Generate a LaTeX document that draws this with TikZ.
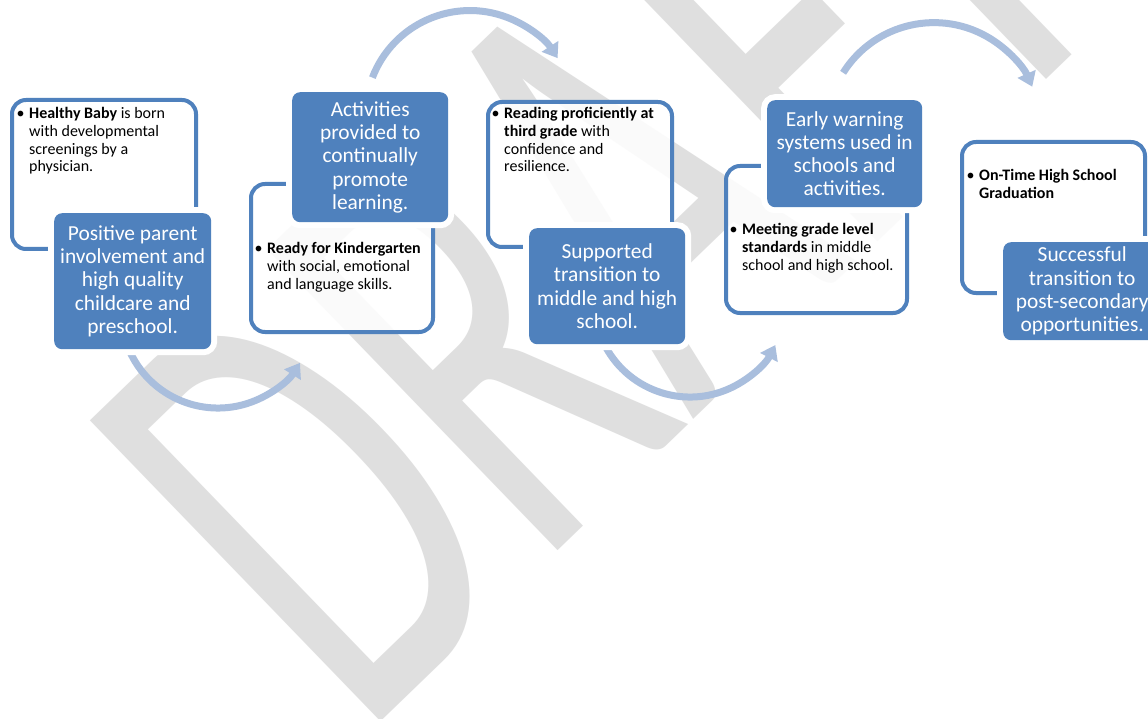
\documentclass[tikz,border=0pt]{standalone}
\usepackage{fontspec}
\setmainfont{Carlito}
\usetikzlibrary{arrows.meta}
\definecolor{boxblue}{HTML}{4F81BD}
\definecolor{arrowblue}{HTML}{A9BEDD}
\definecolor{wmgray}{HTML}{DFDFDF}
\tikzset{
  wmark/.style={text=wmgray, inner sep=0pt, font=\fontsize{652}{652}\selectfont},
  whitebox/.style={rectangle, draw=boxblue, line width=4pt, fill=white, fill opacity=0.85, draw opacity=1,
    rounded corners=14pt, inner sep=0pt, anchor=north west},
  bluebox/.style={rectangle, fill=boxblue, rounded corners=8pt, inner sep=0pt, anchor=north west,
    preaction={draw=white, line width=12pt, rounded corners=8pt}},
  bluetext/.style={text=white, align=center, inner sep=0pt, font=\fontsize{21.4}{23.3}\selectfont},
  bullettext/.style={text=black, align=left, inner sep=0pt, anchor=base west, font=\fontsize{16}{17.6}\selectfont},
  flow/.style={draw=arrowblue, line width=7pt, -{Triangle[width=19pt,length=14pt]}},
}
\newcommand{\bul}{\llap{\textbullet\hspace{4.5pt}}}
\begin{document}
\begin{tikzpicture}[x=1pt, y=-1pt]
\useasboundingbox (0,0) rectangle (1148,719);
\clip (0,0) rectangle (1148,719);
\fill[white] (0,0) rectangle (1148,719);
% watermark
\node[wmark, anchor=base west, rotate=44] (wm) at (361,741) {\scalebox{0.61}[1]{DRAFT}};
% arrows
\coordinate (a1s) at (126.8,344.2);
\coordinate (a2s) at (372.4,77.6);
\coordinate (a3s) at (603.0,341.6);
\coordinate (a4s) at (843.1,72.8);
\draw[flow] (a1s) arc[start angle=160, end angle=32.3, radius=97];
\draw[flow] (a2s) arc[start angle=-159, end angle=-33, radius=104.5];
\draw[flow] (a3s) arc[start angle=155, end angle=27.3, radius=96];
\draw[flow] (a4s) arc[start angle=-147.8, end angle=-23.8, radius=107.4];
% white boxes
\node[whitebox, minimum width=184pt, minimum height=149pt] (w1) at (10,98) {};
\node[whitebox, minimum width=182pt, minimum height=148pt] (w2) at (249,182) {};
\node[whitebox, minimum width=184pt, minimum height=145pt] (w3) at (486,100) {};
\node[whitebox, minimum width=181pt, minimum height=147pt] (w4) at (724,164) {};
\node[whitebox, minimum width=183pt, minimum height=151pt] (w5) at (960,140) {};
% bullet texts (anchored at the baseline of the last line)
\node[bullettext] (t1) at (29,171.8) {\bul\textbf{Healthy Baby} is born\\with developmental\\screenings by a\\physician.};
\node[bullettext] (t2) at (267,289.2) {\bul\textbf{Ready for Kindergarten}\\with social, emotional\\and language skills.};
\node[bullettext] (t3) at (504,171.8) {\bul\textbf{Reading proficiently at}\\\textbf{third grade} with\\confidence and\\resilience.};
\node[bullettext] (t4) at (742,270.2) {\bul\textbf{Meeting grade level}\\\textbf{standards} in middle\\school and high school.};
\node[bullettext] (t5) at (979,198.6) {\bul\textbf{On-Time High School}\\\textbf{Graduation}};
% blue boxes
\node[bluebox, minimum width=157pt, minimum height=136pt] (b1) at (54,213) {};
\node[bluebox, minimum width=156pt, minimum height=130pt] (b2) at (292,92) {};
\node[bluebox, minimum width=156pt, minimum height=116pt] (b3) at (529,228) {};
\node[bluebox, minimum width=155pt, minimum height=107pt] (b4) at (767,100) {};
\node[bluebox, minimum width=158pt, minimum height=98pt] (b5) at (1003,242) {};
\node[bluetext] (l1) at (b1.center) {Positive parent\\involvement and\\high quality\\childcare and\\preschool.};
\node[bluetext] (l2) at (b2.center) {Activities\\provided to\\continually\\promote\\learning.};
\node[bluetext] (l3) at (b3.center) {Supported\\transition to\\middle and high\\school.};
\node[bluetext] (l4) at (b4.center) {Early warning\\systems used in\\schools and\\activities.};
\node[bluetext] (l5) at (b5.center) {Successful\\transition to\\post-secondary\\opportunities.};
\end{tikzpicture}
\end{document}
